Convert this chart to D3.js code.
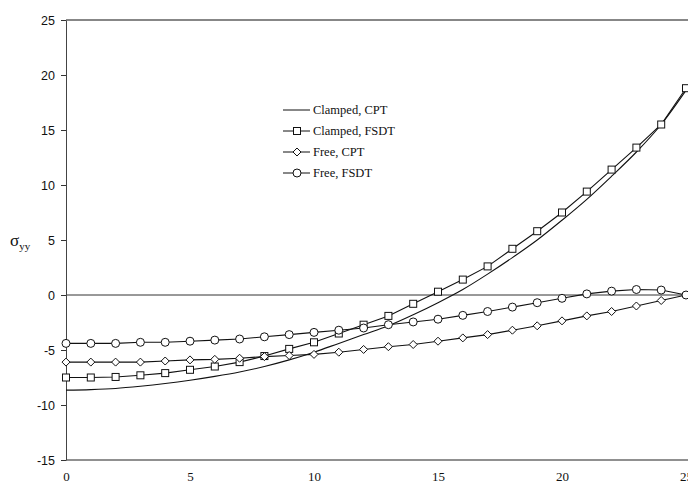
<!DOCTYPE html>
<html lang="en">
<head>
    <meta charset="UTF-8">
    <title>sigma_yy</title>
    <script src="https://cdnjs.cloudflare.com/ajax/libs/d3/7.8.5/d3.min.js"></script>
    <style>
        body{ margin: 0; background: #fff; }
        #mainsvg{ display: block; }
    </style>
</head>
<body>
    <svg width="688" height="494" id="mainsvg"></svg>
    <script>
        // x positions (0..25) and the four curves
        const xs = d3.range(0, 26)
        const clampedCPT  = [-8.65,-8.6,-8.5,-8.3,-8.05,-7.75,-7.4,-7.0,-6.5,-5.9,-5.2,-4.4,-3.6,-2.8,-1.8,-0.7,0.5,1.9,3.4,5.0,6.8,8.7,10.8,13.0,15.5,18.6]
        const clampedFSDT = [-7.5,-7.5,-7.45,-7.3,-7.1,-6.8,-6.5,-6.1,-5.55,-4.9,-4.3,-3.5,-2.7,-1.9,-0.8,0.3,1.4,2.6,4.2,5.8,7.5,9.4,11.4,13.4,15.5,18.8]
        const freeCPT     = [-6.1,-6.1,-6.1,-6.1,-6.0,-5.9,-5.85,-5.75,-5.6,-5.5,-5.4,-5.2,-4.95,-4.7,-4.5,-4.2,-3.9,-3.6,-3.2,-2.8,-2.35,-1.9,-1.5,-1.0,-0.5,0]
        const freeFSDT    = [-4.4,-4.4,-4.4,-4.3,-4.3,-4.2,-4.1,-4.0,-3.8,-3.6,-3.4,-3.2,-3.0,-2.7,-2.45,-2.2,-1.85,-1.5,-1.1,-0.7,-0.3,0.1,0.35,0.5,0.45,0]
        const seriesNames = ["Clamped, CPT", "Clamped, FSDT", "Free, CPT", "Free, FSDT"]
        const markers     = [null, "square", "diamond", "circle"]
        const yTicks = [-15, -10, -5, 0, 5, 10, 15, 20, 25]
        const xTicks = [0, 5, 10, 15, 20, 25]

        const svg = d3.select('#mainsvg')
        const x = d3.scaleLinear().domain([0, 25]).range([66, 686])
        const y = d3.scaleLinear().domain([-15, 25]).range([460, 20])

        // frame lines
        svg.append('line').attr('x1', 66).attr('x2', 688).attr('y1', y(25)).attr('y2', y(25))
            .attr('stroke', '#111').attr('stroke-width', 1.2)
        svg.append('line').attr('x1', 66).attr('x2', 688).attr('y1', y(-15)).attr('y2', y(-15))
            .attr('stroke', '#222').attr('stroke-width', 1.2)
        svg.append('line').attr('x1', 66).attr('x2', 688).attr('y1', y(0)).attr('y2', y(0))
            .attr('stroke', '#333').attr('stroke-width', 1)

        // y axis
        const yAxis = svg.append('g').attr('transform', `translate(${x(0)},0)`)
            .call(d3.axisLeft(y).tickValues(yTicks).tickSize(5).tickSizeOuter(0).tickFormat(d => String(d)))
        yAxis.select('.domain').attr('stroke', '#444')
        yAxis.selectAll('.tick line').attr('stroke', '#333')
        yAxis.selectAll('text').attr('font-family', 'Liberation Sans, Arial, sans-serif')
            .attr('font-size', 12.5).attr('fill', '#111').attr('x', -11)

        // x axis (labels only)
        const xAxis = svg.append('g').attr('transform', `translate(0,${y(-15)})`)
            .call(d3.axisBottom(x).tickValues(xTicks).tickSize(0).tickFormat(d => String(d)))
        xAxis.select('.domain').remove()
        xAxis.selectAll('text').attr('font-family', 'Liberation Serif, Times New Roman, serif')
            .attr('font-size', 13).attr('fill', '#111').attr('dy', '1.35em')

        const g = svg.append('g')
        const lineGen = d3.line().x((d, i) => x(xs[i])).y(d => y(d))
        const allSeries = [clampedCPT, clampedFSDT, freeCPT, freeFSDT]

        function drawMarker(sel, type, cx, cy) {
            if (type === "square") {
                sel.append('rect').attr('x', cx - 3.5).attr('y', cy - 3.5).attr('width', 7).attr('height', 7)
                    .attr('fill', '#fff').attr('stroke', '#111').attr('stroke-width', 1)
            } else if (type === "diamond") {
                sel.append('path').attr('d', `M${cx},${cy-4}L${cx+4},${cy}L${cx},${cy+4}L${cx-4},${cy}Z`)
                    .attr('fill', '#fff').attr('stroke', '#111').attr('stroke-width', 1)
            } else if (type === "circle") {
                sel.append('circle').attr('cx', cx).attr('cy', cy).attr('r', 4)
                    .attr('fill', '#fff').attr('stroke', '#111').attr('stroke-width', 1)
            }
        }

        allSeries.forEach((s, k) => {
            g.append('path').datum(s).attr('d', lineGen.curve(k === 0 ? d3.curveMonotoneX : d3.curveLinear))
                .attr('fill', 'none').attr('stroke', '#111').attr('stroke-width', 1.1)
        })
        allSeries.forEach((s, k) => {
            if (!markers[k]) return
            s.forEach((v, i) => drawMarker(g, markers[k], x(xs[i]), y(v)))
        })

        // legend
        const lg = svg.append('g')
        seriesNames.forEach((name, k) => {
            const ly = 110 + k * 21
            lg.append('line').attr('x1', 283).attr('x2', 310).attr('y1', ly).attr('y2', ly)
                .attr('stroke', '#111').attr('stroke-width', 1)
            if (markers[k]) drawMarker(lg, markers[k], 297, ly)
            lg.append('text').attr('x', 313).attr('y', ly + 4)
                .attr('font-family', 'Liberation Serif, Times New Roman, serif').attr('font-size', 12.5)
                .attr('fill', '#111').text(name)
        })

        // y label
        const yl = svg.append('text').attr('x', 10).attr('y', 246)
            .attr('font-family', 'Liberation Serif, Times New Roman, serif').attr('fill', '#111')
        yl.append('tspan').attr('font-size', 17).text('σ')
        yl.append('tspan').attr('font-size', 11).attr('dy', 4).text('yy')
    </script>
</body>
</html>
